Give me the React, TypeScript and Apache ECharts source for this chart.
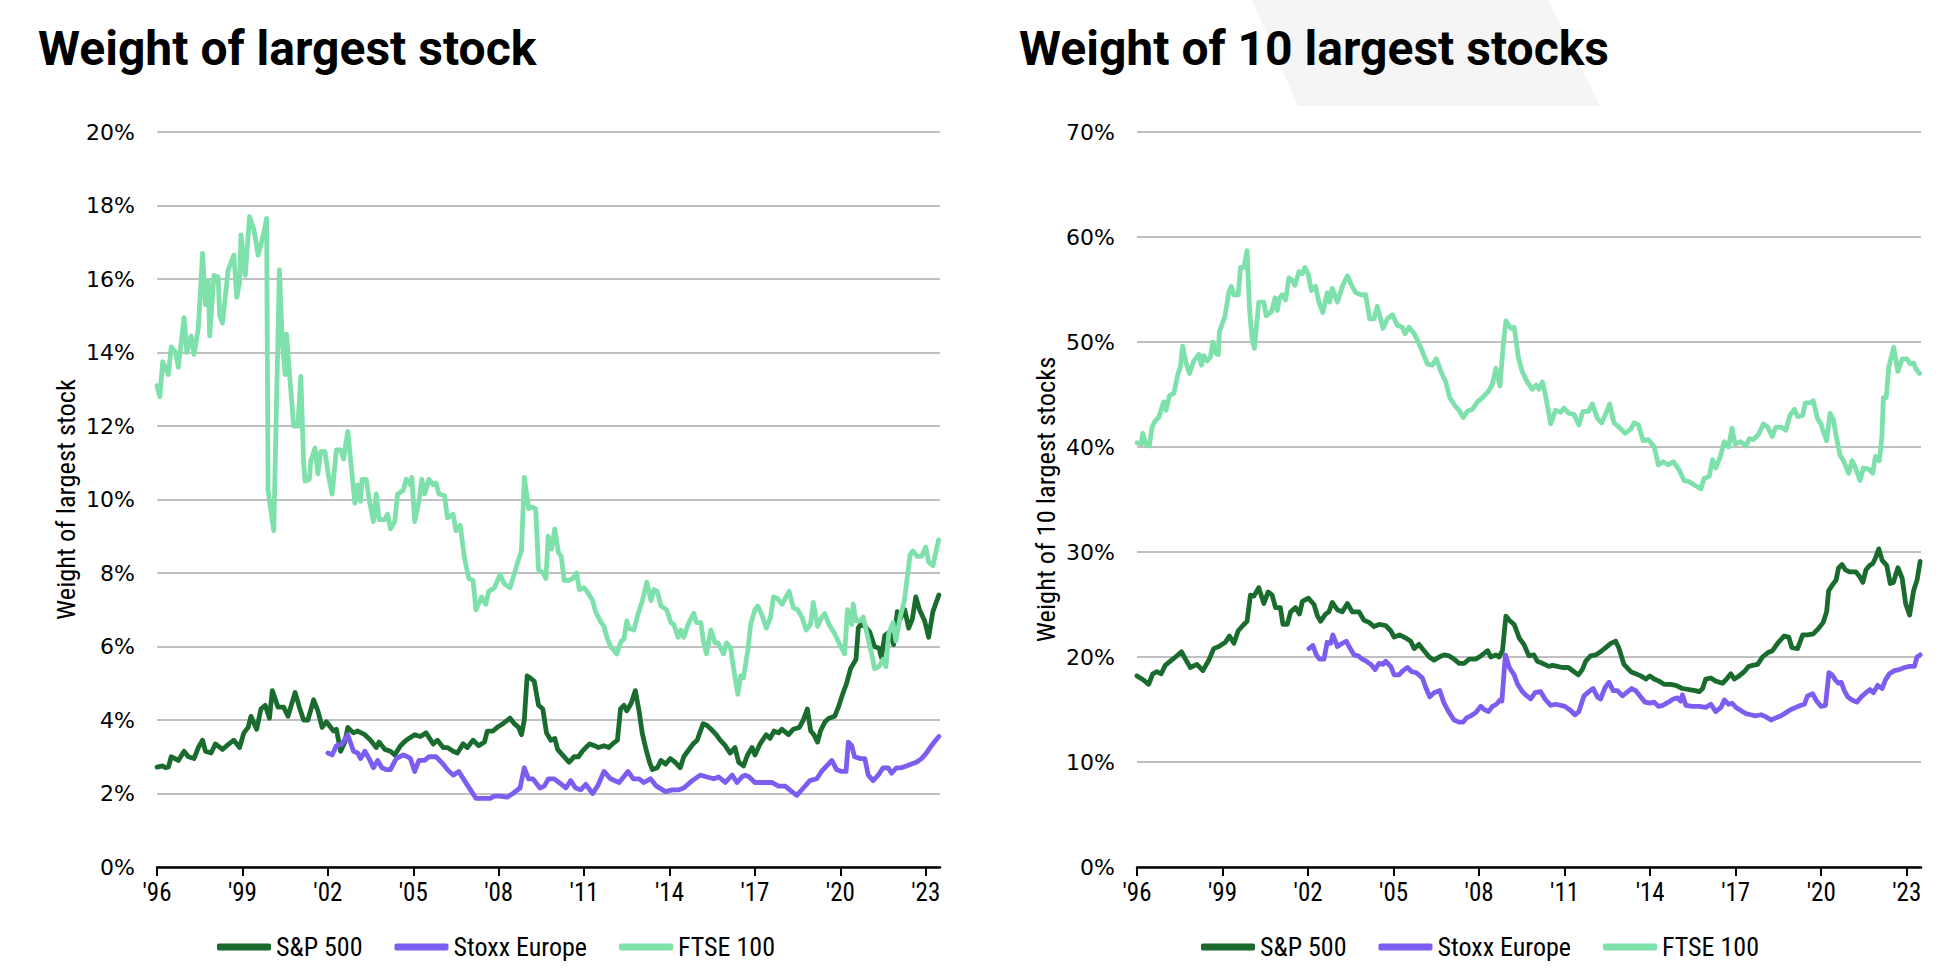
import React, { useEffect, useRef } from "react";
import * as echarts from "echarts";

// ---------- DATA ----------
const seriesNames = ["S&P 500", "Stoxx Europe", "FTSE 100"];
const tickYears = [1996, 1999, 2002, 2005, 2008, 2011, 2014, 2017, 2020, 2023];

// Weight of largest stock (%)
const sp500Largest: number[][] = [
  [1996.0,2.72],[1996.2,2.75],[1996.3,2.7],[1996.4,2.72],[1996.5,3.0],[1996.75,2.9],[1996.95,3.15],[1997.1,3.0],[1997.3,2.95],[1997.45,3.25],[1997.6,3.45],[1997.7,3.15],[1997.9,3.1],[1998.05,3.35],[1998.3,3.2],[1998.45,3.3],[1998.7,3.45],[1998.9,3.25],[1999.05,3.65],[1999.2,3.8],[1999.3,4.1],[1999.5,3.75],[1999.65,4.3],[1999.8,4.4],[1999.95,4.05],[2000.05,4.8],[2000.25,4.35],[2000.45,4.35],[2000.6,4.1],[2000.85,4.75],[2001.0,4.35],[2001.15,4.0],[2001.3,4.0],[2001.5,4.55],[2001.65,4.25],[2001.8,3.8],[2001.95,3.95],[2002.2,3.7],[2002.3,3.75],[2002.45,3.15],[2002.6,3.4],[2002.7,3.8],[2002.9,3.65],[2003.05,3.7],[2003.3,3.6],[2003.5,3.45],[2003.7,3.25],[2003.8,3.4],[2004.0,3.2],[2004.2,3.15],[2004.35,3.05],[2004.55,3.3],[2004.75,3.45],[2005.05,3.6],[2005.25,3.55],[2005.45,3.65],[2005.7,3.35],[2005.85,3.45],[2006.05,3.25],[2006.2,3.25],[2006.4,3.15],[2006.55,3.1],[2006.75,3.35],[2006.9,3.25],[2007.1,3.45],[2007.3,3.3],[2007.5,3.4],[2007.6,3.7],[2007.8,3.7],[2007.95,3.8],[2008.15,3.9],[2008.4,4.05],[2008.55,3.9],[2008.7,3.8],[2008.8,3.6],[2008.9,4.0],[2009.0,5.2],[2009.1,5.15],[2009.25,5.05],[2009.4,4.4],[2009.55,4.3],[2009.68,3.65],[2009.83,3.45],[2009.97,3.5],[2010.07,3.2],[2010.24,3.05],[2010.47,2.85],[2010.65,3.0],[2010.8,3.0],[2010.94,3.15],[2011.06,3.25],[2011.2,3.35],[2011.37,3.3],[2011.5,3.25],[2011.7,3.3],[2011.87,3.25],[2012.0,3.35],[2012.17,3.45],[2012.28,4.3],[2012.4,4.4],[2012.5,4.25],[2012.65,4.45],[2012.8,4.8],[2012.93,4.25],[2013.04,3.65],[2013.16,3.25],[2013.3,2.85],[2013.4,2.65],[2013.57,2.7],[2013.7,2.9],[2013.86,2.8],[2014.03,2.95],[2014.2,2.85],[2014.38,2.7],[2014.5,3.0],[2014.64,3.15],[2014.83,3.35],[2014.97,3.45],[2015.18,3.9],[2015.32,3.85],[2015.46,3.75],[2015.64,3.6],[2015.78,3.45],[2015.96,3.3],[2016.13,3.1],[2016.3,3.25],[2016.43,2.85],[2016.6,2.75],[2016.74,3.05],[2016.9,3.25],[2017.0,3.05],[2017.18,3.35],[2017.4,3.6],[2017.53,3.5],[2017.67,3.7],[2017.83,3.65],[2017.94,3.75],[2018.18,3.6],[2018.35,3.75],[2018.56,3.8],[2018.7,4.0],[2018.84,4.3],[2018.96,3.7],[2019.07,3.6],[2019.2,3.4],[2019.3,3.7],[2019.46,3.95],[2019.6,4.05],[2019.8,4.1],[2019.93,4.35],[2020.08,4.7],[2020.22,5.0],[2020.36,5.4],[2020.55,5.65],[2020.63,6.5],[2020.71,6.6],[2020.86,6.55],[2021.03,6.4],[2021.2,6.0],[2021.36,5.95],[2021.44,5.7],[2021.56,6.3],[2021.73,6.4],[2021.87,6.05],[2022.0,6.95],[2022.1,6.75],[2022.26,7.0],[2022.4,6.5],[2022.53,6.75],[2022.65,7.35],[2022.78,7.0],[2022.96,6.7],[2023.1,6.25],[2023.25,6.95],[2023.46,7.4]
];
const stoxxLargest: number[][] = [
  [2002.0,3.1],[2002.15,3.05],[2002.3,3.3],[2002.5,3.35],[2002.7,3.6],[2002.9,3.15],[2003.05,3.1],[2003.15,2.95],[2003.3,3.15],[2003.45,2.95],[2003.6,2.7],[2003.75,2.9],[2003.9,2.7],[2004.05,2.65],[2004.2,2.65],[2004.4,2.95],[2004.65,3.05],[2004.8,3.0],[2004.9,2.95],[2005.05,2.6],[2005.2,2.9],[2005.4,2.9],[2005.55,3.0],[2005.8,3.0],[2006.05,2.8],[2006.2,2.65],[2006.4,2.5],[2006.6,2.6],[2006.8,2.35],[2007.05,2.05],[2007.2,1.87],[2007.45,1.87],[2007.7,1.87],[2007.85,1.93],[2008.05,1.93],[2008.3,1.9],[2008.5,2.0],[2008.75,2.15],[2008.9,2.7],[2009.05,2.4],[2009.2,2.4],[2009.45,2.15],[2009.6,2.2],[2009.75,2.4],[2009.95,2.4],[2010.12,2.3],[2010.36,2.15],[2010.53,2.35],[2010.7,2.15],[2010.88,2.1],[2011.06,2.25],[2011.3,2.0],[2011.47,2.2],[2011.7,2.6],[2011.93,2.4],[2012.23,2.3],[2012.54,2.6],[2012.73,2.4],[2012.93,2.4],[2013.1,2.3],[2013.33,2.4],[2013.54,2.2],[2013.86,2.05],[2014.1,2.1],[2014.33,2.1],[2014.5,2.15],[2014.8,2.35],[2015.08,2.5],[2015.32,2.45],[2015.55,2.4],[2015.73,2.45],[2015.96,2.3],[2016.2,2.5],[2016.37,2.3],[2016.54,2.45],[2016.66,2.5],[2016.8,2.45],[2017.0,2.3],[2017.3,2.3],[2017.59,2.3],[2017.83,2.2],[2018.06,2.2],[2018.3,2.05],[2018.47,1.95],[2018.7,2.15],[2018.93,2.35],[2019.17,2.4],[2019.34,2.6],[2019.52,2.75],[2019.7,2.9],[2019.87,2.65],[2020.04,2.6],[2020.2,2.6],[2020.28,3.4],[2020.4,3.3],[2020.5,3.0],[2020.71,2.95],[2020.86,2.95],[2020.98,2.5],[2021.15,2.35],[2021.33,2.5],[2021.5,2.7],[2021.68,2.7],[2021.8,2.55],[2021.97,2.7],[2022.14,2.7],[2022.32,2.75],[2022.5,2.8],[2022.67,2.85],[2022.85,2.95],[2023.02,3.1],[2023.2,3.3],[2023.35,3.45],[2023.46,3.55]
];
const ftseLargest: number[][] = [
  [1996.0,13.1],[1996.1,12.8],[1996.2,13.75],[1996.4,13.4],[1996.5,14.15],[1996.65,14.0],[1996.75,13.6],[1996.95,14.95],[1997.05,14.0],[1997.2,14.45],[1997.3,13.95],[1997.45,14.65],[1997.6,16.7],[1997.7,15.3],[1997.8,15.95],[1997.85,14.45],[1998.0,16.1],[1998.15,16.05],[1998.2,15.0],[1998.3,14.8],[1998.5,16.25],[1998.7,16.65],[1998.8,15.5],[1998.9,15.9],[1998.95,17.2],[1999.1,16.1],[1999.25,17.7],[1999.4,17.35],[1999.55,16.65],[1999.75,17.25],[1999.85,17.65],[1999.9,10.25],[2000.1,9.15],[2000.3,16.25],[2000.4,14.3],[2000.5,13.4],[2000.55,14.5],[2000.65,13.45],[2000.8,12.0],[2000.95,12.0],[2001.05,13.35],[2001.15,11.0],[2001.2,10.5],[2001.35,10.55],[2001.4,11.05],[2001.55,11.4],[2001.65,10.7],[2001.75,11.3],[2001.9,11.3],[2002.0,10.75],[2002.15,10.15],[2002.3,11.35],[2002.45,11.35],[2002.55,11.1],[2002.7,11.85],[2002.95,9.9],[2003.05,10.4],[2003.15,9.95],[2003.2,10.55],[2003.35,10.55],[2003.45,10.0],[2003.6,9.4],[2003.7,10.15],[2003.8,9.45],[2004.0,9.45],[2004.1,9.6],[2004.2,9.2],[2004.35,9.4],[2004.45,10.15],[2004.65,10.25],[2004.75,10.55],[2004.9,10.4],[2004.95,10.6],[2005.05,9.4],[2005.2,9.95],[2005.3,10.55],[2005.4,10.15],[2005.55,10.55],[2005.7,10.4],[2005.8,10.45],[2005.9,10.15],[2006.1,10.1],[2006.2,9.5],[2006.4,9.6],[2006.5,9.15],[2006.65,9.3],[2006.8,8.4],[2006.95,7.85],[2007.1,7.8],[2007.2,7.0],[2007.4,7.35],[2007.55,7.15],[2007.65,7.5],[2007.85,7.6],[2008.05,7.95],[2008.2,7.7],[2008.4,7.6],[2008.65,8.25],[2008.8,8.6],[2008.9,10.6],[2009.05,9.75],[2009.15,9.8],[2009.3,9.75],[2009.4,8.1],[2009.55,8.0],[2009.66,7.85],[2009.74,9.0],[2009.86,8.65],[2009.97,9.2],[2010.1,8.55],[2010.2,8.45],[2010.3,7.8],[2010.47,7.8],[2010.6,7.85],[2010.74,8.0],[2010.83,7.55],[2011.0,7.6],[2011.1,7.5],[2011.3,7.25],[2011.4,6.95],[2011.6,6.65],[2011.7,6.55],[2011.8,6.25],[2011.93,6.0],[2012.15,5.8],[2012.3,6.15],[2012.4,6.2],[2012.5,6.7],[2012.57,6.5],[2012.75,6.45],[2012.9,6.9],[2013.05,7.25],[2013.2,7.75],[2013.35,7.25],[2013.45,7.55],[2013.57,7.5],[2013.7,7.1],[2013.9,7.0],[2014.05,6.65],[2014.15,6.6],[2014.3,6.25],[2014.4,6.45],[2014.5,6.25],[2014.65,6.6],[2014.85,6.9],[2014.95,6.65],[2015.1,6.65],[2015.2,6.1],[2015.3,5.8],[2015.45,6.45],[2015.6,6.1],[2015.7,6.1],[2015.9,5.8],[2016.0,6.1],[2016.15,5.95],[2016.25,5.4],[2016.4,4.7],[2016.5,5.2],[2016.6,5.15],[2016.75,5.9],[2016.85,6.6],[2017.0,7.0],[2017.1,7.1],[2017.25,6.85],[2017.4,6.5],[2017.55,6.8],[2017.65,7.35],[2017.8,7.3],[2017.95,7.15],[2018.2,7.5],[2018.35,7.05],[2018.5,7.0],[2018.65,6.8],[2018.8,6.45],[2018.95,6.6],[2019.05,7.2],[2019.2,6.55],[2019.35,6.8],[2019.45,6.9],[2019.6,6.6],[2019.8,6.35],[2019.95,6.1],[2020.15,5.8],[2020.25,7.0],[2020.4,6.6],[2020.45,7.15],[2020.55,6.7],[2020.7,6.7],[2020.8,6.8],[2020.95,6.3],[2021.1,5.8],[2021.2,5.4],[2021.35,5.45],[2021.5,5.65],[2021.6,5.45],[2021.7,6.35],[2021.85,6.65],[2021.95,6.15],[2022.1,6.8],[2022.25,7.25],[2022.45,8.5],[2022.55,8.6],[2022.7,8.45],[2022.85,8.45],[2023.0,8.7],[2023.1,8.3],[2023.25,8.2],[2023.45,8.9]
];

// Weight of 10 largest stocks (%)
const sp500Top10: number[][] = [
  [1996.0,18.2],[1996.23,17.8],[1996.41,17.4],[1996.55,18.4],[1996.7,18.6],[1996.85,18.4],[1996.99,19.2],[1997.17,19.6],[1997.35,20.0],[1997.56,20.5],[1997.7,19.8],[1997.87,19.0],[1998.1,19.3],[1998.31,18.7],[1998.52,19.7],[1998.69,20.8],[1998.87,21.0],[1999.1,21.4],[1999.24,22.0],[1999.4,21.3],[1999.55,22.5],[1999.75,23.1],[1999.86,23.4],[1999.98,25.9],[2000.1,25.8],[2000.27,26.6],[2000.45,25.1],[2000.6,26.2],[2000.74,25.9],[2000.86,24.7],[2001.03,24.7],[2001.12,23.1],[2001.27,23.1],[2001.39,24.3],[2001.56,24.7],[2001.7,24.1],[2001.8,25.3],[2002.01,25.6],[2002.21,25.0],[2002.33,23.9],[2002.44,23.4],[2002.62,24.1],[2002.73,24.3],[2002.85,25.2],[2003.03,24.5],[2003.2,24.3],[2003.38,25.1],[2003.55,24.3],[2003.79,24.3],[2003.96,23.5],[2004.14,23.3],[2004.31,22.9],[2004.49,23.1],[2004.72,23.0],[2004.9,22.5],[2005.02,21.9],[2005.21,22.1],[2005.43,21.8],[2005.6,21.5],[2005.72,20.8],[2005.89,21.2],[2006.07,20.6],[2006.25,20.0],[2006.42,19.7],[2006.6,20.0],[2006.77,20.2],[2006.95,20.1],[2007.12,19.8],[2007.3,19.4],[2007.48,19.4],[2007.65,19.8],[2007.88,19.8],[2008.06,20.1],[2008.3,20.6],[2008.41,20.0],[2008.59,20.2],[2008.7,20.0],[2008.82,20.6],[2008.94,23.9],[2009.06,23.5],[2009.23,23.1],[2009.41,21.8],[2009.57,21.2],[2009.75,20.1],[2009.92,20.2],[2010.04,19.6],[2010.22,19.4],[2010.45,19.1],[2010.57,19.2],[2010.74,19.1],[2010.92,19.0],[2011.13,19.0],[2011.33,18.6],[2011.48,18.3],[2011.62,18.8],[2011.74,19.6],[2011.91,20.1],[2012.09,20.2],[2012.26,20.5],[2012.44,20.9],[2012.62,21.3],[2012.79,21.5],[2012.91,20.8],[2013.08,19.3],[2013.32,18.6],[2013.49,18.4],[2013.67,18.2],[2013.85,17.9],[2013.99,18.2],[2014.14,17.9],[2014.31,17.7],[2014.49,17.4],[2014.72,17.4],[2014.9,17.3],[2015.13,17.0],[2015.37,16.9],[2015.58,16.8],[2015.72,16.7],[2015.84,17.0],[2015.95,17.9],[2016.13,18.0],[2016.3,17.7],[2016.54,17.5],[2016.68,17.9],[2016.83,18.4],[2016.95,17.9],[2017.12,18.2],[2017.3,18.6],[2017.45,19.1],[2017.59,19.2],[2017.77,19.3],[2017.94,20.0],[2018.12,20.4],[2018.29,20.6],[2018.47,21.3],[2018.7,22.0],[2018.86,21.9],[2018.97,20.9],[2019.17,20.8],[2019.35,22.1],[2019.52,22.1],[2019.72,22.2],[2019.9,22.7],[2020.07,23.3],[2020.19,24.3],[2020.26,26.3],[2020.4,26.9],[2020.52,27.3],[2020.61,28.5],[2020.73,28.8],[2020.85,28.3],[2020.99,28.1],[2021.1,28.1],[2021.22,28.1],[2021.34,27.7],[2021.46,27.1],[2021.57,28.3],[2021.69,28.7],[2021.81,28.9],[2021.9,29.4],[2022.02,30.3],[2022.14,29.2],[2022.3,28.7],[2022.42,27.0],[2022.53,27.1],[2022.69,28.5],[2022.84,27.5],[2022.96,25.1],[2023.1,24.0],[2023.24,26.3],[2023.36,27.3],[2023.47,29.1]
];
const stoxxTop10: number[][] = [
  [2002.03,20.8],[2002.17,21.1],[2002.29,20.2],[2002.4,19.8],[2002.56,19.8],[2002.67,21.4],[2002.79,21.3],[2002.87,22.1],[2003.03,21.0],[2003.2,21.3],[2003.34,21.5],[2003.46,20.9],[2003.61,20.2],[2003.76,20.1],[2003.9,19.8],[2004.04,19.6],[2004.2,19.3],[2004.35,18.8],[2004.49,19.4],[2004.63,19.3],[2004.72,19.6],[2004.9,19.1],[2005.02,18.3],[2005.19,18.3],[2005.33,18.7],[2005.49,19.0],[2005.64,18.6],[2005.8,18.5],[2006.01,18.0],[2006.13,17.1],[2006.27,16.2],[2006.42,16.6],[2006.62,16.8],[2006.77,15.6],[2006.93,14.8],[2007.12,14.0],[2007.3,13.8],[2007.44,13.8],[2007.56,14.2],[2007.71,14.4],[2007.88,14.7],[2008.06,15.3],[2008.18,15.0],[2008.33,14.8],[2008.47,15.3],[2008.61,15.5],[2008.73,15.9],[2008.8,15.8],[2008.92,20.2],[2009.06,19.0],[2009.23,18.3],[2009.35,17.4],[2009.52,16.7],[2009.63,16.4],[2009.81,16.0],[2009.96,16.6],[2010.16,16.7],[2010.31,16.0],[2010.51,15.4],[2010.68,15.5],[2010.86,15.4],[2011.01,15.3],[2011.21,14.9],[2011.36,14.5],[2011.5,14.8],[2011.68,16.3],[2011.85,16.7],[2012.0,17.0],[2012.15,16.2],[2012.26,16.0],[2012.42,17.1],[2012.56,17.6],[2012.7,16.8],[2012.85,16.8],[2013.03,16.3],[2013.17,16.6],[2013.35,17.0],[2013.49,16.8],[2013.67,16.2],[2013.82,15.7],[2013.99,15.6],[2014.14,15.7],[2014.29,15.3],[2014.45,15.4],[2014.64,15.7],[2014.81,16.0],[2014.96,16.1],[2015.07,15.8],[2015.13,16.4],[2015.25,15.4],[2015.48,15.3],[2015.72,15.3],[2015.95,15.2],[2016.13,15.5],[2016.3,14.8],[2016.48,15.2],[2016.6,15.9],[2016.75,15.5],[2016.87,15.6],[2017.01,15.2],[2017.18,14.9],[2017.36,14.6],[2017.53,14.5],[2017.69,14.4],[2017.89,14.5],[2018.06,14.3],[2018.24,14.0],[2018.41,14.2],[2018.59,14.4],[2018.76,14.7],[2018.94,15.0],[2019.11,15.2],[2019.29,15.4],[2019.41,15.5],[2019.52,16.3],[2019.7,16.5],[2019.84,15.8],[2019.99,15.3],[2020.15,15.4],[2020.27,18.5],[2020.38,18.3],[2020.5,17.8],[2020.61,17.5],[2020.7,17.6],[2020.81,16.8],[2020.93,16.2],[2021.08,15.9],[2021.25,15.7],[2021.4,16.2],[2021.57,16.6],[2021.71,16.9],[2021.83,16.6],[2021.98,17.3],[2022.14,17.0],[2022.25,17.8],[2022.39,18.4],[2022.57,18.7],[2022.74,18.8],[2022.92,19.0],[2023.1,19.1],[2023.27,19.1],[2023.36,20.0],[2023.47,20.2]
];
const ftseTop10: number[][] = [
  [1996.0,40.4],[1996.15,40.3],[1996.2,41.3],[1996.3,40.3],[1996.43,40.1],[1996.53,41.9],[1996.64,42.5],[1996.76,42.8],[1996.94,44.3],[1997.02,43.5],[1997.14,44.9],[1997.29,45.1],[1997.44,47.0],[1997.52,47.6],[1997.6,49.6],[1997.72,48.0],[1997.84,47.0],[1997.99,48.2],[1998.17,48.8],[1998.26,47.8],[1998.34,48.7],[1998.46,48.2],[1998.58,48.6],[1998.66,50.0],[1998.78,48.9],[1998.85,48.8],[1998.89,51.0],[1999.08,52.4],[1999.22,54.7],[1999.31,55.3],[1999.4,54.5],[1999.55,54.5],[1999.63,57.1],[1999.75,57.1],[1999.86,58.7],[1999.95,53.0],[2000.04,50.2],[2000.12,49.4],[2000.27,53.8],[2000.45,53.8],[2000.53,52.5],[2000.72,52.9],[2000.84,54.2],[2000.92,53.0],[2001.0,54.2],[2001.09,54.5],[2001.21,54.0],[2001.33,56.1],[2001.44,55.9],[2001.54,55.4],[2001.68,56.7],[2001.8,56.5],[2001.89,57.1],[2002.0,56.5],[2002.12,54.9],[2002.26,55.3],[2002.38,53.8],[2002.52,52.8],[2002.67,54.7],[2002.76,53.8],[2002.85,55.1],[2003.03,53.8],[2003.2,55.3],[2003.38,56.3],[2003.53,55.4],[2003.67,54.7],[2003.85,54.5],[2004.02,54.5],[2004.16,52.2],[2004.31,52.2],[2004.43,53.4],[2004.63,51.3],[2004.78,52.2],[2004.96,52.6],[2005.13,51.6],[2005.31,51.4],[2005.4,50.8],[2005.54,51.4],[2005.72,50.8],[2005.87,50.0],[2006.01,49.1],[2006.19,47.9],[2006.36,47.8],[2006.5,48.4],[2006.66,47.2],[2006.83,46.2],[2006.97,44.7],[2007.16,43.9],[2007.3,43.5],[2007.44,42.8],[2007.59,43.4],[2007.77,43.6],[2007.94,44.3],[2008.12,44.7],[2008.33,45.3],[2008.47,46.0],[2008.59,47.5],[2008.73,45.8],[2008.85,49.8],[2008.94,52.0],[2009.12,51.3],[2009.23,51.4],[2009.38,48.5],[2009.51,47.2],[2009.69,46.2],[2009.86,45.5],[2010.0,45.9],[2010.1,45.5],[2010.22,46.2],[2010.33,44.9],[2010.51,42.2],[2010.68,43.5],[2010.86,43.3],[2010.98,43.7],[2011.15,43.2],[2011.33,43.1],[2011.5,42.1],[2011.64,43.4],[2011.83,43.4],[2011.97,44.1],[2012.15,42.7],[2012.3,42.3],[2012.46,43.3],[2012.58,44.1],[2012.73,42.3],[2012.91,41.9],[2013.12,41.3],[2013.32,41.7],[2013.44,42.3],[2013.59,42.1],[2013.75,40.6],[2013.94,40.7],[2014.14,40.0],[2014.29,38.3],[2014.45,38.6],[2014.64,38.3],[2014.81,38.6],[2015.0,37.9],[2015.19,36.8],[2015.37,36.7],[2015.54,36.4],[2015.78,36.0],[2015.89,37.0],[2016.07,37.2],[2016.19,38.8],[2016.3,38.0],[2016.45,39.0],[2016.6,40.5],[2016.75,40.0],[2016.87,41.8],[2016.98,40.3],[2017.18,40.5],[2017.36,40.1],[2017.48,40.8],[2017.62,40.7],[2017.8,41.2],[2017.97,42.2],[2018.12,41.9],[2018.28,41.0],[2018.41,41.9],[2018.59,41.9],[2018.76,41.6],[2018.9,43.0],[2019.06,43.6],[2019.17,42.9],[2019.35,43.0],[2019.44,44.2],[2019.61,44.2],[2019.72,44.4],[2019.87,42.7],[2019.99,42.2],[2020.07,41.5],[2020.19,40.6],[2020.31,43.2],[2020.42,42.7],[2020.54,40.8],[2020.66,39.2],[2020.78,38.7],[2020.96,37.5],[2021.08,38.7],[2021.22,37.9],[2021.36,36.8],[2021.48,38.0],[2021.67,37.9],[2021.81,37.5],[2021.9,39.1],[2022.04,38.7],[2022.13,41.1],[2022.18,44.7],[2022.28,44.7],[2022.37,47.6],[2022.54,49.5],[2022.69,47.2],[2022.84,48.4],[2023.0,48.4],[2023.12,47.9],[2023.24,48.0],[2023.33,47.4],[2023.45,47.0]
];

const leftTitle = "Weight of largest stock";
const rightTitle = "Weight of 10 largest stocks";

// ---------- STYLE ----------
const COLORS = ["#1a6c2e", "#7d5cf0", "#7ee0aa"];
const NARROW = '"Liberation Sans Narrow", "Arial Narrow", "Roboto Condensed", sans-serif';
const WIDE = '"DejaVu Sans", Verdana, sans-serif';

const yearLabel = (v: number) => "'" + String(Math.round(v) % 100).padStart(2, "0");

function makeX(gridIndex: number) {
  return {
    type: "value",
    gridIndex,
    min: 1996,
    max: 2023.5,
    axisLine: { show: true, lineStyle: { color: "#000", width: 2.5 } },
    axisTick: { show: true, length: 9, lineStyle: { color: "#000", width: 2 }, customValues: tickYears },
    axisLabel: { customValues: tickYears, formatter: yearLabel, color: "#000", fontSize: 25, fontFamily: NARROW, margin: 13 },
    splitLine: { show: false },
  };
}

function makeY(gridIndex: number, max: number, interval: number, name: string) {
  return {
    type: "value",
    gridIndex,
    min: 0,
    max,
    interval,
    name,
    nameLocation: "middle",
    nameRotate: 90,
    nameGap: 78,
    nameTextStyle: { color: "#000", fontSize: 26.5, fontFamily: NARROW },
    axisLine: { show: false },
    axisTick: { show: false },
    axisLabel: { formatter: "{value}%", color: "#000", fontSize: 22, fontFamily: WIDE, margin: 22 },
    splitLine: { show: true, lineStyle: { color: "#c0c0c0", width: 2 } },
  };
}

function makeSeries(name: string, data: number[][], idx: number, color: string) {
  return {
    type: "line",
    name,
    data,
    xAxisIndex: idx,
    yAxisIndex: idx,
    showSymbol: false,
    symbol: "none",
    lineStyle: { width: 4.8, color, join: "round", cap: "round" },
    itemStyle: { color },
    color,
  };
}

function makeLegend(left: number) {
  return {
    left,
    top: 929,
    orient: "horizontal",
    icon: "roundRect",
    itemWidth: 54,
    itemHeight: 7,
    itemGap: 32,
    data: seriesNames,
    textStyle: { color: "#000", fontSize: 26, fontFamily: NARROW },
  };
}

export default function App() {
  const ref = useRef<HTMLDivElement>(null);
  useEffect(() => {
    if (!ref.current) return;
    const chart = echarts.init(ref.current, null, { renderer: "svg" });
    const option: any = {
      animation: false,
      backgroundColor: "#fff",
      graphic: [
        {
          type: "polygon",
          z: -10,
          silent: true,
          shape: { points: [[1252, 0], [1548, 0], [1600, 106], [1298, 106]] },
          style: { fill: "#f5f5f5" },
        },
      ],
      title: [
        { text: leftTitle, left: 33, top: 19, textStyle: { fontFamily: "Roboto", fontWeight: "bold", fontSize: 48, color: "#000" } },
        { text: rightTitle, left: 1014, top: 19, textStyle: { fontFamily: "Roboto", fontWeight: "bold", fontSize: 48, color: "#000" } },
      ],
      grid: [
        { left: 157, right: 1012, top: 132, bottom: 111, containLabel: false },
        { left: 1137, right: 31, top: 132, bottom: 111, containLabel: false },
      ],
      xAxis: [makeX(0), makeX(1)],
      yAxis: [makeY(0, 20, 2, "Weight of largest stock"), makeY(1, 70, 10, "Weight of 10 largest stocks")],
      legend: [makeLegend(212), makeLegend(1196)],
      series: [
        makeSeries(seriesNames[0], sp500Largest, 0, COLORS[0]),
        makeSeries(seriesNames[1], stoxxLargest, 0, COLORS[1]),
        makeSeries(seriesNames[2], ftseLargest, 0, COLORS[2]),
        makeSeries(seriesNames[0], sp500Top10, 1, COLORS[0]),
        makeSeries(seriesNames[1], stoxxTop10, 1, COLORS[1]),
        makeSeries(seriesNames[2], ftseTop10, 1, COLORS[2]),
      ],
    };
    chart.setOption(option);
    return () => chart.dispose();
  }, []);
  return <div ref={ref} style={{ position: "fixed", left: 0, top: 0, width: 1952, height: 978 }} />;
}
